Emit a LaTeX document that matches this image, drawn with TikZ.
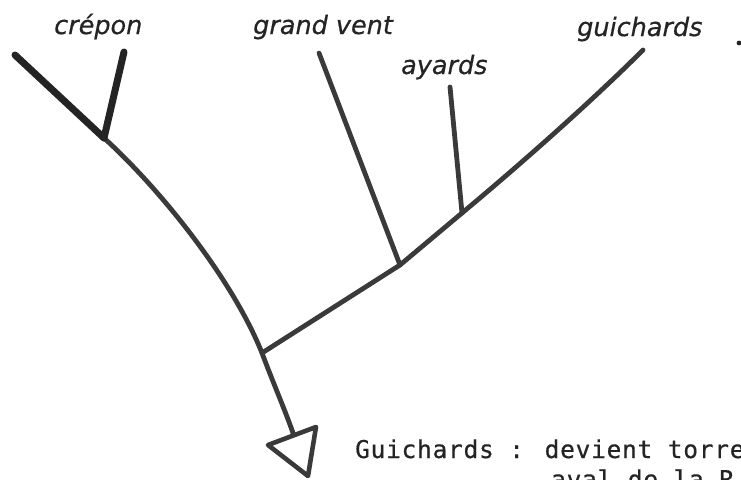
\documentclass[tikz,border=0pt]{standalone}
\usepackage{fontspec}
\newfontfamily\labfont{DejaVu Sans}[FakeBold=0.6]
\newfontfamily\monofont{DejaVu Sans Mono}[LetterSpace=3,FakeBold=0.5]
\definecolor{ink}{HTML}{3A3A3A}
\definecolor{darkink}{HTML}{242424}
\begin{document}
\begin{tikzpicture}[x=1pt,y=-1pt,
  stream/.style={draw=ink,line width=4.8pt,line cap=round,line join=round},
  thickstream/.style={draw=darkink,line width=7pt,line cap=round},
  lab/.style={inner sep=0pt,anchor=base west,text=darkink,font=\labfont\itshape\fontsize{25.5}{28}\selectfont},
  note/.style={inner sep=0pt,anchor=base west,text=darkink,font=\monofont\fontsize{24.5}{29}\selectfont}]
\useasboundingbox (0,0) rectangle (741,479);
\clip (0,0) rectangle (741,479);
% coordinates
\coordinate (J1) at (104,138);
\coordinate (J2) at (262,353);
\coordinate (A) at (293,433);
\coordinate (K1) at (400,265);
\coordinate (K2) at (462,213);
\coordinate (G) at (643,50);
\coordinate (C1) at (15,55);
\coordinate (C2) at (124,52);
\coordinate (GV) at (319,53);
\coordinate (AY) at (450,87);
\coordinate (T1) at (268,445);
\coordinate (T2) at (316,427);
\coordinate (T3) at (308,476);
% main stream
\draw[stream] (J1) .. controls (159,188) and (232,278) .. (J2)
  .. controls (272,380) and (285,410) .. (A);
% arrow head
\draw[stream,line width=4.6pt] (T1) -- (T2) -- (T3) -- cycle;
% guichards branch
\draw[stream] (J2) -- (K1) -- (K2) .. controls (522,163) and (593,100) .. (G);
\draw[stream] (GV) -- (K1);
\draw[stream] (AY) -- (K2);
% crepon
\draw[thickstream] (C1) -- (J1);
\draw[thickstream] (C2) -- (J1);
% labels
\node[lab] (lc) at (54,34) {crépon};
\node[lab] (lg) at (253,34) {grand vent};
\node[lab] (la) at (401,74) {ayards};
\node[lab] (lgu) at (577,36) {guichards};
\fill[darkink] (739,43) circle (2.4);
\node[note] (n1) at (355,458) {Guichards : devient torrent};
\node[note] (n2) at (551,488) {aval de la R};
\end{tikzpicture}
\end{document}
